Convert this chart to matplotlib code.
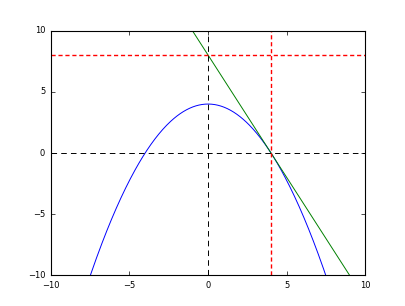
import matplotlib

matplotlib.use("Agg")
import matplotlib.pyplot as plt
import numpy as np

plt.style.use("classic")
plt.rcParams["font.size"] = 6

# parabola y = a*x^2 + c (vertex at 4, roots at +-4)
parab_a = -0.25
parab_c = 4.0
# tangent at (4, 0), slope -2
tan_x0 = 4.0
tan_y0 = 0.0
tan_slope = -2.0
# reference lines
hline_red = 8.0
vline_red = 4.0

xlim = [-10, 10]
ylim = [-10, 10]

x = np.linspace(xlim[0], xlim[1], 400)
y_parab = parab_a * x ** 2 + parab_c
y_tan = tan_y0 + tan_slope * (x - tan_x0)

fig = plt.figure(figsize=(4.06, 3.06), dpi=100)
ax = fig.add_subplot(111)
ax.plot(x, y_parab, color="#0000ff", lw=0.7)
ax.plot(x, y_tan, color="#008000", lw=0.7)
ax.axhline(0, color="k", linestyle="--", lw=0.7, dashes=(4, 3))
ax.axvline(0, color="k", linestyle="--", lw=0.7, dashes=(4, 3))
ax.axhline(hline_red, color="red", linestyle="--", lw=1.0, dashes=(3, 2))
ax.axvline(vline_red, color="red", linestyle="--", lw=1.0, dashes=(3, 2))
ax.set_xlim(xlim)
ax.set_ylim(ylim)
ax.tick_params(length=3, width=0.5)
for sp in ax.spines.values():
    sp.set_linewidth(0.8)
fig.savefig("out.png", dpi=100)
